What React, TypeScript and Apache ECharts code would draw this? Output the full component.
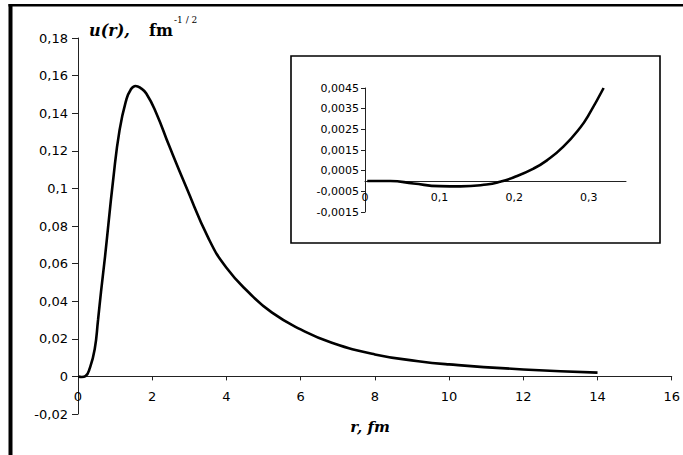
import React, { useEffect, useRef } from 'react';
import * as echarts from 'echarts';

// Main curve u(r)
const mainR = [0.01, 0.1, 0.2, 0.32, 0.45, 0.54, 0.62, 0.73, 0.95, 1.12, 1.3, 1.42, 1.55, 1.68, 1.84, 2.11, 2.46, 2.91, 3.53, 4.0, 4.61, 5.23, 6.0, 6.84, 8.0, 9.17, 10, 12, 14];
const mainU = [0, -0.0003, 0.0001, 0.0045, 0.0144, 0.030, 0.045, 0.064, 0.105, 0.131, 0.147, 0.1525, 0.1545, 0.1535, 0.1505, 0.140, 0.1225, 0.101, 0.0729, 0.0578, 0.0445, 0.0339, 0.025, 0.0179, 0.0117, 0.0081, 0.0064, 0.0037, 0.002];

// Inset (small r)
const insetR = [0.003, 0.034, 0.065, 0.1, 0.128, 0.163, 0.181, 0.199, 0.226, 0.244, 0.266, 0.289, 0.3, 0.32];
const insetU = [0, 0, -0.00012, -0.00025, -0.00026, -0.00017, -0.00004, 0.00017, 0.0006, 0.001, 0.00166, 0.0026, 0.0032, 0.0045];

const yTitleMain = 'u(r),';
const yTitleUnit = 'fm';
const yTitleSup = '-1 / 2';
const xTitle = 'r, fm';

const fmt = (v: number) => parseFloat(v.toFixed(6)).toString().replace('.', ',');

export default function App() {
  const ref = useRef<HTMLDivElement>(null);
  useEffect(() => {
    const chart = echarts.init(ref.current!, null, { renderer: 'svg' });
    const axisLine = { lineStyle: { color: '#222', width: 1 } };
    const lab = { color: '#000', fontFamily: '"DejaVu Sans", sans-serif' };
    const mainH = 376;
    const insetH = 124;
    chart.setOption({
      animation: false,
      backgroundColor: '#fff',
      grid: [
        { left: 78, top: 38, width: 596, height: mainH },
        { left: 365, top: 88, width: 261, height: insetH },
      ],
      xAxis: [
        {
          gridIndex: 0, type: 'value', min: 0, max: 16, interval: 2,
          position: 'bottom', offset: -mainH * 0.1,
          axisLine: { onZero: false, ...axisLine },
          axisTick: { show: true, length: 4, lineStyle: { color: '#222' } },
          axisLabel: { ...lab, fontSize: 13, margin: 14, formatter: fmt },
          splitLine: { show: false },
        },
        {
          gridIndex: 1, type: 'value', min: 0, max: 0.35, interval: 0.1,
          position: 'bottom', offset: -insetH * 0.25,
          axisLine: { onZero: false, ...axisLine },
          axisTick: { show: false },
          axisLabel: { ...lab, fontSize: 11, margin: 11, formatter: fmt, showMaxLabel: false },
          splitLine: { show: false },
        },
      ],
      yAxis: [
        {
          gridIndex: 0, type: 'value', min: -0.02, max: 0.18, interval: 0.02,
          axisLine: { show: true, onZero: false, ...axisLine },
          axisTick: { show: true, length: 6, lineStyle: { color: '#222' } },
          axisLabel: { ...lab, fontSize: 13, margin: 10, formatter: fmt },
          splitLine: { show: false },
        },
        {
          gridIndex: 1, type: 'value', min: -0.0015, max: 0.0045, interval: 0.001,
          axisLine: { show: true, onZero: false, ...axisLine },
          axisTick: { show: true, length: 4, lineStyle: { color: '#222' } },
          axisLabel: { ...lab, fontSize: 11, margin: 6, formatter: fmt },
          splitLine: { show: false },
        },
      ],
      series: [
        {
          type: 'line', xAxisIndex: 0, yAxisIndex: 0, smooth: 0.5, symbol: 'none',
          lineStyle: { color: '#000', width: 2.6 },
          data: mainR.map((r, i) => [r, mainU[i]]),
        },
        {
          type: 'line', xAxisIndex: 1, yAxisIndex: 1, smooth: 0.5, symbol: 'none',
          lineStyle: { color: '#000', width: 2.6 },
          data: insetR.map((r, i) => [r, insetU[i]]),
        },
      ],
      graphic: [
        { type: 'line', shape: { x1: 10.5, y1: 4, x2: 10.5, y2: 470 }, style: { stroke: '#000', lineWidth: 4 } },
        { type: 'line', shape: { x1: 8.5, y1: 5.3, x2: 700, y2: 5.3 }, style: { stroke: '#000', lineWidth: 2.5 } },
        { type: 'rect', shape: { x: 291, y: 56, width: 369, height: 187 }, style: { fill: 'none', stroke: '#000', lineWidth: 1.6 } },
        { type: 'text', x: 89, y: 30, style: { text: yTitleMain, font: 'italic bold 16px "DejaVu Serif", serif', fill: '#000', align: 'left', verticalAlign: 'middle' } },
        { type: 'text', x: 149, y: 30, style: { text: yTitleUnit, font: 'bold 16px "DejaVu Serif", serif', fill: '#000', align: 'left', verticalAlign: 'middle' } },
        { type: 'text', x: 174, y: 20, style: { text: yTitleSup, font: '9px "DejaVu Serif", serif', fill: '#000', align: 'left', verticalAlign: 'middle' } },
        { type: 'text', x: 370, y: 427, style: { text: xTitle, font: 'italic bold 15px "DejaVu Serif", serif', fill: '#000', align: 'center', verticalAlign: 'middle' } },
      ],
    });
    return () => chart.dispose();
  }, []);
  return <div ref={ref} style={{ position: 'absolute', left: 0, top: 0, width: 683, height: 455 }} />;
}
